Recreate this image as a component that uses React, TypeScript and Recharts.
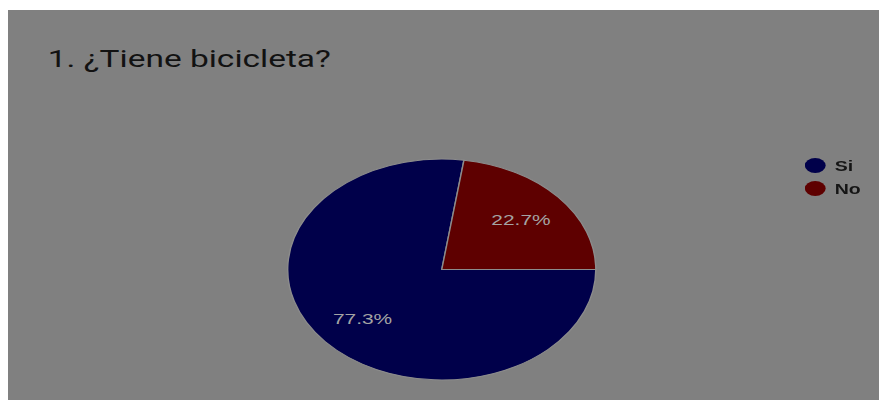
import React from "react";
import { PieChart, Pie, Cell, Legend } from "recharts";

const categories = ["Si", "No"];
const values = [77.3, 22.7];
const colors = ["#00004a", "#5e0000"];
const title = "1. ¿Tiene bicicleta?";

const data = categories.map((name, i) => ({ name, value: values[i] }));

const SX = 1.394;
const W = 632;
const H = 392;

const RADIAN = Math.PI / 180;

const renderLabel = (props: any) => {
  const { cx, cy, midAngle, outerRadius, percent } = props;
  const r = outerRadius * 0.68;
  const x = cx + r * Math.cos(-midAngle * RADIAN);
  const y = cy + r * Math.sin(-midAngle * RADIAN);
  return (
    <text
      x={x}
      y={y}
      fill="#a4a4a4"
      textAnchor="middle"
      dominantBaseline="central"
      fontFamily="'Liberation Sans', Arial, sans-serif"
      fontSize={15}
    >
      {(percent * 100).toFixed(1) + "%"}
    </text>
  );
};

const renderLegend = () => (
  <div style={{ fontFamily: "'Liberation Sans', Arial, sans-serif" }}>
    {data.map((d, i) => (
      <div
        key={d.name}
        style={{ display: "flex", alignItems: "center", height: 23.3 }}
      >
        <div
          style={{
            width: 15,
            height: 15,
            borderRadius: "50%",
            background: colors[i],
            marginRight: 6.5,
          }}
        />
        <span style={{ fontSize: 14, fontWeight: "bold", color: "#151515" }}>
          {d.name}
        </span>
      </div>
    ))}
  </div>
);

export default function App() {
  return (
    <div
      style={{
        position: "relative",
        left: -2,
        top: 2,
        width: W,
        height: H,
        transform: `scale(${SX}, 1)`,
        transformOrigin: "left top",
        background: "#808080",
      }}
    >
      <div
        style={{
          position: "absolute",
          left: 30,
          top: 34,
          fontFamily: "Roboto, sans-serif",
          fontSize: 24,
          color: "#121212",
          whiteSpace: "nowrap",
          lineHeight: "30px",
        }}
      >
        {title}
      </div>
      <PieChart
        width={W}
        height={H}
        margin={{ top: 0, right: 0, bottom: 0, left: 0 }}
        style={{ position: "absolute", left: 0, top: 0 }}
      >
        <Pie
          data={data}
          dataKey="value"
          nameKey="name"
          cx={312.6}
          cy={259.5}
          outerRadius={110.5}
          startAngle={0}
          endAngle={-360}
          stroke="#8c8c8c"
          strokeWidth={1}
          label={renderLabel}
          labelLine={false}
          isAnimationActive={false}
        >
          {data.map((d, i) => (
            <Cell key={d.name} fill={colors[i]} />
          ))}
        </Pie>
        <Legend
          content={renderLegend}
          wrapperStyle={{ position: "absolute", left: 573, top: 144, width: 60 }}
        />
      </PieChart>
    </div>
  );
}
